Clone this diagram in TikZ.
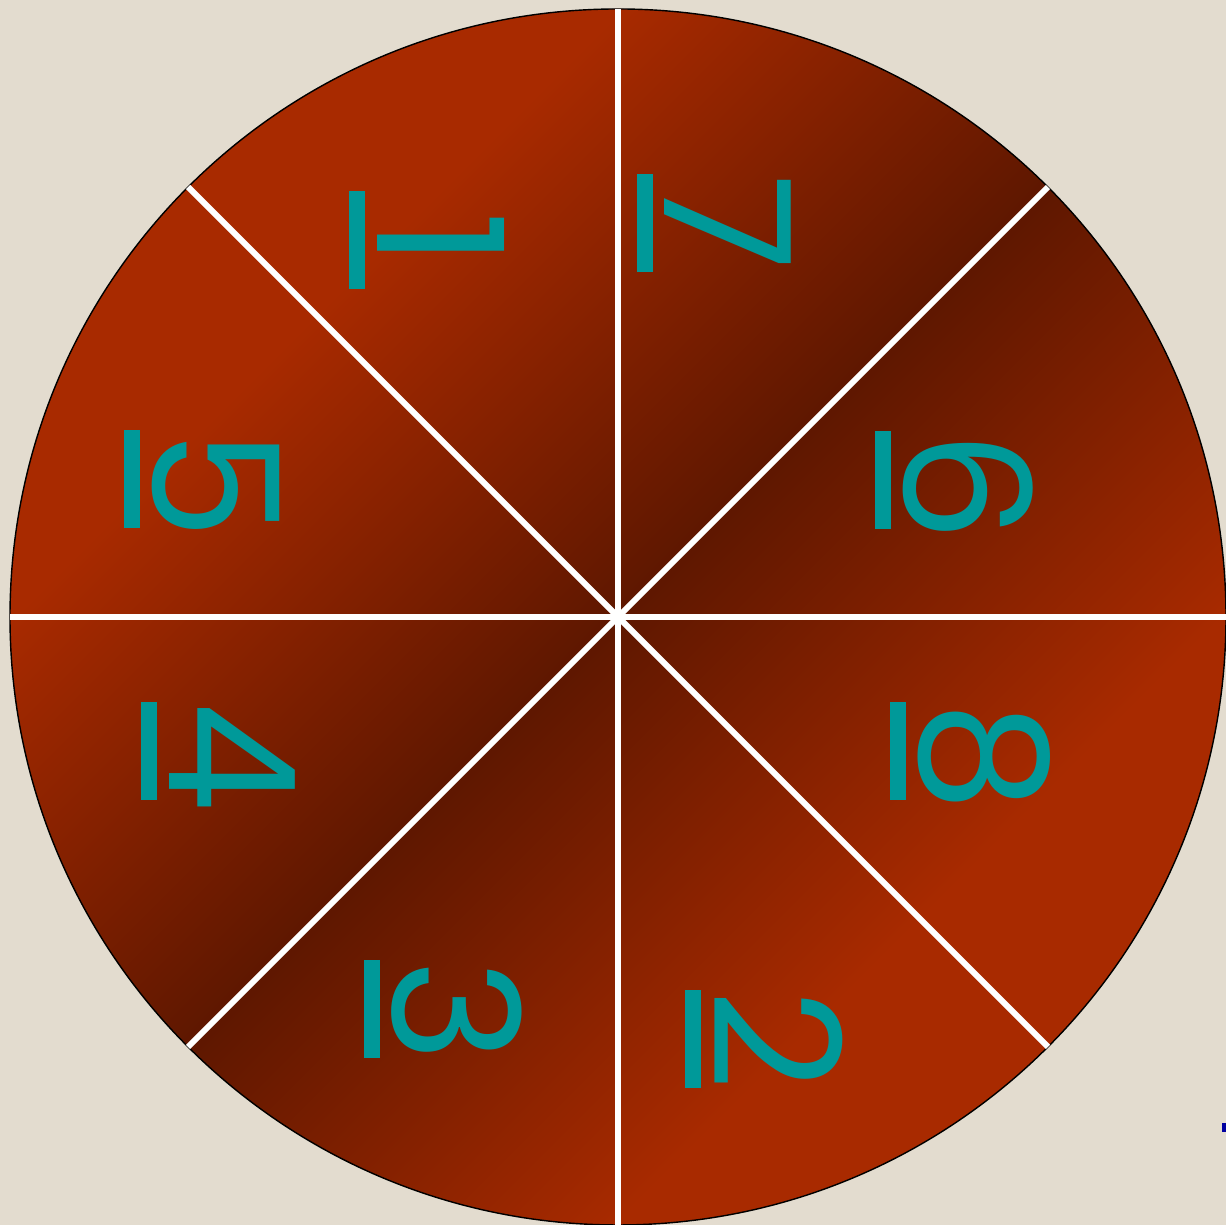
\documentclass[tikz,border=0pt]{standalone}
\usepackage{fontspec}
\setmainfont{Poppins}
\usetikzlibrary{positioning}

\definecolor{parchment}{RGB}{227,220,207}
\definecolor{rust}{RGB}{168,42,0}
\definecolor{umber}{RGB}{94,23,0}
\definecolor{tealnum}{RGB}{0,153,153}
\definecolor{inkblue}{RGB}{0,0,160}

% light at the two diagonal ends, dark across the middle
\pgfdeclareverticalshading{wheelshade}{100bp}{color(0bp)=(rust); color(32.3bp)=(rust); color(50bp)=(umber); color(67.7bp)=(rust); color(100bp)=(rust)}

% digit with a bar under it
\newcommand{\ulnum}[1]{\vtop{\hbox to 0.98cm{\hfil#1\hfil}\kern0.12cm\hrule height 0.16cm}}

\begin{document}
\begin{tikzpicture}[
    num/.style={text=tealnum, inner sep=0pt, rotate=-90, font=\fontsize{50}{60}\selectfont},
    spoke/.style={draw=white, line width=1.7pt}
]
    \fill[parchment] (0,0) rectangle (12.26,12.25);
    \useasboundingbox (0,0) rectangle (12.26,12.25);

    \coordinate (hub) at (6.18,6.08);
    \shade[shading=wheelshade, shading angle=45] (hub) circle (6.08);
    \draw[black, line width=0.4pt] (hub) circle (6.08);
    \foreach \a in {0,45,...,315}
        \draw[spoke] (hub) -- ++(\a:6.08);

    \node[num] (d1) at (4.27,9.85) {\ulnum{1}};
    \node[num] (d7) at (7.14,10.02) {\ulnum{7}};
    \node[num] (d6) at (9.54,7.45) {\ulnum{6}};
    \node[num] (d8) at (9.70,4.74) {\ulnum{8}};
    \node[num] (d2) at (7.64,1.86) {\ulnum{2}};
    \node[num] (d3) at (4.43,2.16) {\ulnum{3}};
    \node[num] (d4) at (2.18,4.74) {\ulnum{4}};
    \node[num] (d5) at (2.02,7.46) {\ulnum{5}};

    \fill[inkblue] (12.22,0.93) rectangle (12.26,1.02);
\end{tikzpicture}
\end{document}
